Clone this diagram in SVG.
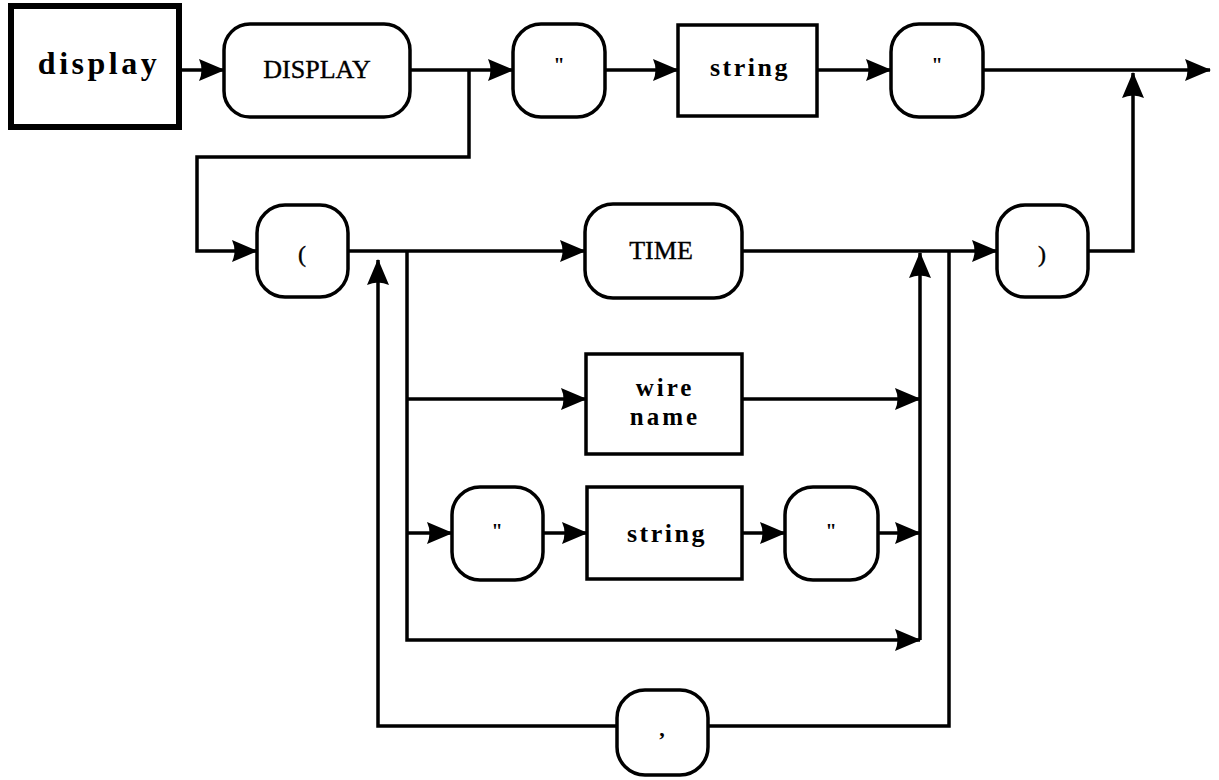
<svg xmlns="http://www.w3.org/2000/svg" width="1219" height="780" viewBox="0 0 1219 780">
<style>
.box{fill:#fff;stroke:#000;stroke-width:3.5}
.term{fill:#fff;stroke:#000;stroke-width:3.5}
.big{fill:#fff;stroke:#000;stroke-width:6}
.conn{fill:none;stroke:#000;stroke-width:3.5}
.lbl{font-family:"Liberation Serif",serif;font-weight:bold;fill:#000;text-anchor:middle}
.kw{font-family:"Liberation Serif",serif;fill:#000;text-anchor:middle;stroke:#000;stroke-width:0.4}
</style>
<defs>
<marker id="ah" markerUnits="userSpaceOnUse" markerWidth="26" markerHeight="22" viewBox="0 0 26 22" refX="25" refY="11" orient="auto">
<path d="M0,0 L26,11 L0,22 Q5,11 0,0 z" fill="#000"/>
</marker>
</defs>
<g id="connectors" class="conn">
<path d="M182,70 H224" marker-end="url(#ah)"/>
<path d="M410,70 H513" marker-end="url(#ah)"/>
<path d="M605,70 H678" marker-end="url(#ah)"/>
<path d="M817,70 H891" marker-end="url(#ah)"/>
<path d="M983,70 H1210" marker-end="url(#ah)"/>
<path d="M469,70 V157 H197 V251 H257" marker-end="url(#ah)"/>
<path d="M348,251 H585" marker-end="url(#ah)"/>
<path d="M742,251 H997" marker-end="url(#ah)"/>
<path d="M1088,251 H1133 V73" marker-end="url(#ah)"/>
<path d="M407,251 V640 H920" marker-end="url(#ah)"/>
<path d="M407,399 H586" marker-end="url(#ah)"/>
<path d="M742,399 H920" marker-end="url(#ah)"/>
<path d="M407,533 H452" marker-end="url(#ah)"/>
<path d="M543,533 H587" marker-end="url(#ah)"/>
<path d="M742,533 H785" marker-end="url(#ah)"/>
<path d="M878,533 H920" marker-end="url(#ah)"/>
<path d="M920,640 V253" marker-end="url(#ah)"/>
<path d="M949,251 V726 H708"/>
<path d="M617,726 H378 V260" marker-end="url(#ah)"/>
</g>
<g id="n-display">
<rect class="big" x="11" y="6" width="168" height="121"/>
<text class="lbl" x="99" y="74" font-size="32" letter-spacing="3.5">display</text>
</g>
<g id="n-DISPLAY">
<rect class="term" x="224" y="24" width="186" height="93" rx="26"/>
<text class="kw" x="317" y="78" font-size="26">DISPLAY</text>
</g>
<g id="n-quote1">
<rect class="term" x="513" y="24" width="92" height="93" rx="28"/>
<text class="lbl" x="559" y="72" font-size="20">"</text>
</g>
<g id="n-string1">
<rect class="box" x="678" y="25" width="139" height="91"/>
<text class="lbl" x="750" y="76" font-size="26" letter-spacing="2.5">string</text>
</g>
<g id="n-quote2">
<rect class="term" x="891" y="24" width="92" height="93" rx="28"/>
<text class="lbl" x="937" y="72" font-size="20">"</text>
</g>
<g id="n-lparen">
<rect class="term" x="257" y="205" width="91" height="92" rx="28"/>
<text class="kw" x="302" y="262" font-size="24">(</text>
</g>
<g id="n-TIME">
<rect class="term" x="585" y="204" width="157" height="94" rx="28"/>
<text class="kw" x="661" y="259" font-size="26">TIME</text>
</g>
<g id="n-rparen">
<rect class="term" x="997" y="205" width="91" height="92" rx="28"/>
<text class="kw" x="1042" y="262" font-size="24">)</text>
</g>
<g id="n-wirename">
<rect class="box" x="586" y="354" width="156" height="100"/>
<text class="lbl" x="665" y="396" font-size="25" letter-spacing="3">wire</text>
<text class="lbl" x="665" y="425" font-size="25" letter-spacing="3">name</text>
</g>
<g id="n-quote3">
<rect class="term" x="452" y="487" width="91" height="93" rx="28"/>
<text class="lbl" x="497" y="538" font-size="20">"</text>
</g>
<g id="n-string2">
<rect class="box" x="587" y="487" width="155" height="92"/>
<text class="lbl" x="667" y="542" font-size="26" letter-spacing="2.5">string</text>
</g>
<g id="n-quote4">
<rect class="term" x="785" y="487" width="93" height="93" rx="28"/>
<text class="lbl" x="831" y="538" font-size="20">"</text>
</g>
<g id="n-comma">
<rect class="term" x="617" y="690" width="91" height="85" rx="28"/>
<text class="lbl" x="662" y="736" font-size="22">,</text>
</g>
</svg>
